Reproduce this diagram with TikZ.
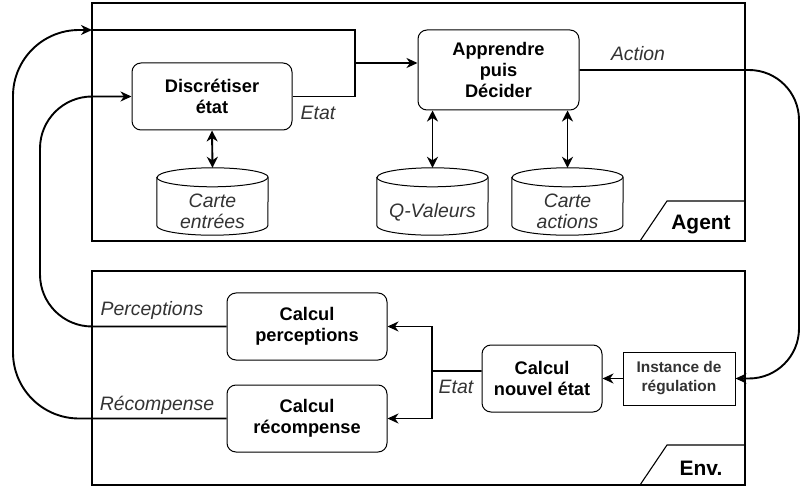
\documentclass[tikz,border=0pt]{standalone}
\usepackage{fontspec}
\setmainfont{Liberation Sans}
\usetikzlibrary{arrows.meta,calc}
\definecolor{lbl}{RGB}{51,51,51}
\tikzset{
  box/.style={draw=black, line width=1bp, rounded corners=9bp, fill=white, align=center, inner sep=0pt,
    font=\fontsize{18.3}{21.5}\selectfont\bfseries},
  plainbox/.style={draw=black, line width=1bp, fill=white, align=center, inner sep=0pt,
    font=\fontsize{15.5}{19}\selectfont\bfseries, text=lbl},
  cylbox/.style={inner sep=0pt, align=center, minimum width=111bp, minimum height=67bp,
    font=\fontsize{19.5}{21}\selectfont\itshape, text=lbl},
  frame/.style={draw=black, line width=1.1bp},
  conn/.style={draw=black, line width=1.9bp},
  tip/.style={-{Stealth[length=11bp,width=10bp,inset=3.5bp]}},
  dtip/.style={{Stealth[length=11bp,width=11bp,inset=3.5bp]}-{Stealth[length=11bp,width=11bp,inset=3.5bp]}},
  lab/.style={inner sep=0pt, font=\fontsize{19.5}{21}\selectfont\itshape, text=lbl},
  tablab/.style={inner sep=0pt, font=\fontsize{21}{24}\selectfont\bfseries},
}
\begin{document}
\begin{tikzpicture}[x=1bp,y=-1bp]
\useasboundingbox (0,0) rectangle (802,487);
% frames
\draw[frame] (92,3) rectangle (745,241);
\draw[frame] (640,241) -- (667,201) -- (745,201);
\node[tablab] (agent) at (701,225) {Agent};
\draw[frame] (92,271) rectangle (745,485);
\draw[frame] (640,485) -- (667,445) -- (745,445);
\node[tablab] (env) at (701,468) {Env.};

% agent nodes
\node[box, minimum width=160bp, minimum height=67bp] (disc) at (212,96.5) {Discrétiser\\état};
\node[box, minimum width=161bp, minimum height=80bp] (app) at (498.5,70) {Apprendre\\puis\\Décider};
\node[cylbox] (c1) at (212.5,201.5) {};
\node[cylbox] (c2) at (432.5,201.5) {};
\node[cylbox] (c3) at (567.5,201.5) {};
\foreach \n in {c1,c2,c3}{
  \draw[line width=1bp, fill=white] ($(\n.north west)+(0,9.5)$) -- ($(\n.south west)+(0,-9.5)$)
    arc[start angle=180,end angle=0,x radius=55.5,y radius=9.5]
    -- ($(\n.north east)+(0,9.5)$)
    arc[start angle=0,end angle=-180,x radius=55.5,y radius=9.5] -- cycle;
  \draw[line width=1bp] ($(\n.north west)+(0,9.5)$) arc[start angle=180,end angle=0,x radius=55.5,y radius=9.5];
}
\node[cylbox] at (212.5,211) {Carte\\entrées};
\node[cylbox] at (432.5,212) {Q-Valeurs};
\node[cylbox] at (567.5,211) {Carte\\actions};

% env nodes
\node[box, minimum width=160bp, minimum height=67bp] (perc) at (307,326.5) {Calcul\\perceptions};
\node[box, minimum width=160bp, minimum height=67bp] (rec) at (307,418.5) {Calcul\\récompense};
\node[box, minimum width=120bp, minimum height=67bp] (nouv) at (542,378.5) {Calcul\\nouvel état};
\node[plainbox, minimum width=112bp, minimum height=53bp] (inst) at (679,378.5) {Instance de\\régulation};

% connectors
\coordinate (agentL) at (92,30);
\coordinate (join) at (355,63);
\coordinate (split) at (432,371);
\draw[conn, tip, rounded corners=66bp] (rec.west) -- (13,418.5) -- (13,30) -- (agentL);
\draw[conn] (agentL) -- (355,30) -- (join);
\draw[conn] (disc.east) -- (355,96.5) -- (join);
\draw[conn, tip] (join) -- (join -| app.west);
\draw[conn, tip, rounded corners=52bp] (perc.west) -- (40,326.5) -- (40,96.5) -- (disc.west);
\draw[conn, tip, rounded corners=50bp] (app.east) -- (799,70) -- (799,378.5) -- (inst.east);
\draw[conn, tip] (inst.west) -- (nouv.east);
\draw[conn] ([yshift=7.5bp]nouv.west) -- (split);
\draw[conn, tip] (split) |- (perc.east);
\draw[conn, tip] (split) |- (rec.east);
\draw[conn, dtip] (disc.south) -- (c1.north);
\draw[conn, dtip] (app.south -| c2.north) -- (c2.north);
\draw[conn, dtip] (app.south -| c3.north) -- (c3.north);

% labels
\node[lab] (l1) at (318,113) {Etat};
\node[lab] (l2) at (638,54) {Action};
\node[lab] (l3) at (152,310) {Perceptions};
\node[lab] (l4) at (157,405) {Récompense};
\node[lab] (l5) at (456,387) {Etat};
\end{tikzpicture}
\end{document}
